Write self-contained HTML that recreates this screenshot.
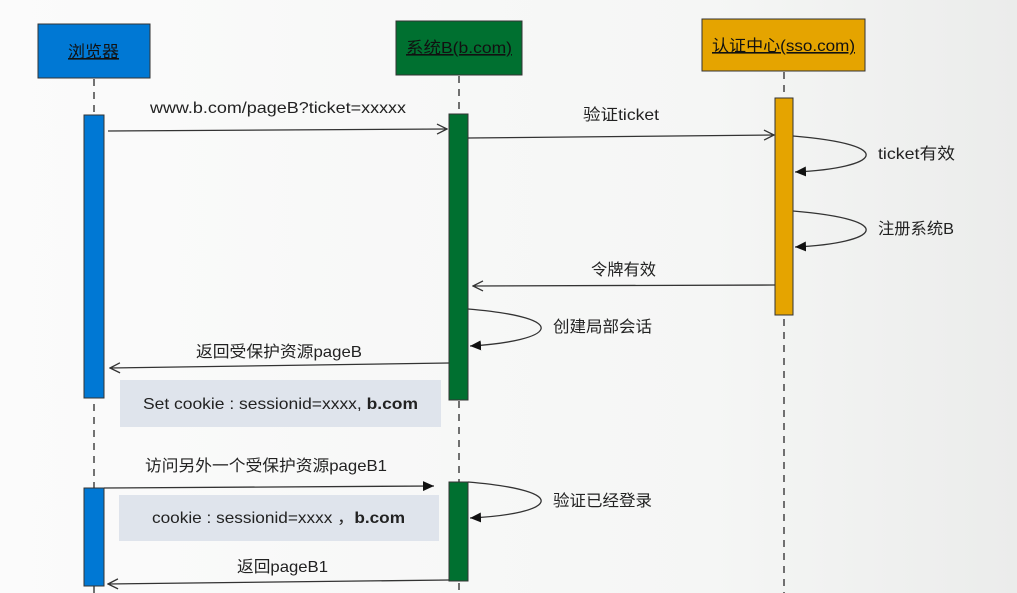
<!DOCTYPE html>
<html><head><meta charset="utf-8"><style>
html,body{margin:0;padding:0;background:#f7f8f7;}
svg{display:block;}
text{font-family:"Liberation Sans","Noto Sans CJK SC",sans-serif;font-size:16px;fill:#222;}
</style></head><body>
<svg width="1017" height="593" viewBox="0 0 1017 593" xmlns="http://www.w3.org/2000/svg">
<defs>
<linearGradient id="bg" x1="0" x2="1" y1="0" y2="0">
<stop offset="0" stop-color="#fbfbfb"/><stop offset="0.7" stop-color="#f5f6f5"/><stop offset="1" stop-color="#ebeceb"/>
</linearGradient>
<marker id="open" markerWidth="12" markerHeight="12" refX="11" refY="6" orient="auto" markerUnits="userSpaceOnUse">
<path d="M1,1 L11,6 L1,11" fill="none" stroke="#333" stroke-width="1.3"/></marker>
<marker id="fill" markerWidth="12" markerHeight="10" refX="11" refY="5" orient="auto" markerUnits="userSpaceOnUse">
<path d="M0,0 L11,5 L0,10 z" fill="#111"/></marker>
</defs>
<rect width="1017" height="593" fill="url(#bg)"/>
<g stroke="#444" stroke-width="1.5" stroke-dasharray="7,6">
<line x1="94" y1="79" x2="94" y2="593"/>
<line x1="459" y1="76" x2="459" y2="593"/>
<line x1="784" y1="72" x2="784" y2="593"/>
</g>
<rect x="38" y="24" width="112" height="54" fill="#0078d4" stroke="#333"/>
<text x="68" y="57" textLength="51" lengthAdjust="spacingAndGlyphs" text-decoration="underline" style="fill:#111">浏览器</text>
<rect x="396" y="21" width="126" height="54" fill="#007030" stroke="#333"/>
<text x="406" y="53" textLength="106" lengthAdjust="spacingAndGlyphs" text-decoration="underline" style="fill:#111">系统B(b.com)</text>
<rect x="702" y="19" width="163" height="52" fill="#e5a400" stroke="#333"/>
<text x="712" y="51" textLength="143" lengthAdjust="spacingAndGlyphs" text-decoration="underline" style="fill:#111">认证中心(sso.com)</text>
<g stroke="#333" stroke-width="1">
<rect x="84" y="115" width="20" height="283" fill="#0078d4"/>
<rect x="84" y="488" width="20" height="98" fill="#0078d4"/>
<rect x="449" y="114" width="19" height="286" fill="#007030"/>
<rect x="449" y="482" width="19" height="99" fill="#007030"/>
<rect x="775" y="98" width="18" height="217" fill="#e5a400"/>
</g>
<rect x="120" y="380" width="321" height="47" fill="#dfe4ec"/>
<text x="143" y="409" textLength="275" lengthAdjust="spacingAndGlyphs">Set cookie : sessionid=xxxx, <tspan font-weight="bold">b.com</tspan></text>
<rect x="119" y="495" width="320" height="46" fill="#dfe4ec"/>
<text x="152" y="523" textLength="253" lengthAdjust="spacingAndGlyphs">cookie : sessionid=xxxx ，<tspan font-weight="bold">b.com</tspan></text>
<g stroke="#333" stroke-width="1.3" fill="none">
<line x1="108" y1="131" x2="447" y2="129" marker-end="url(#open)"/>
<line x1="468" y1="138" x2="774" y2="135" marker-end="url(#open)"/>
<path d="M793,136 C900,145 880,168 795,172" marker-end="url(#fill)"/>
<path d="M793,211 C900,220 880,243 795,247" marker-end="url(#fill)"/>
<line x1="775" y1="285" x2="473" y2="286" marker-end="url(#open)"/>
<path d="M468,309 C575,318 555,341 470,346" marker-end="url(#fill)"/>
<line x1="449" y1="363" x2="110" y2="368" marker-end="url(#open)"/>
<line x1="104" y1="488" x2="434" y2="486" marker-end="url(#fill)"/>
<path d="M468,482 C575,491 555,514 470,518" marker-end="url(#fill)"/>
<line x1="449" y1="580" x2="108" y2="584" marker-end="url(#open)"/>
</g>
<text x="150" y="113" textLength="256" lengthAdjust="spacingAndGlyphs">www.b.com/pageB?ticket=xxxxx</text>
<text x="583" y="120" textLength="76" lengthAdjust="spacingAndGlyphs">验证ticket</text>
<text x="878" y="159" textLength="77" lengthAdjust="spacingAndGlyphs">ticket有效</text>
<text x="878" y="234" textLength="76" lengthAdjust="spacingAndGlyphs">注册系统B</text>
<text x="591" y="275" textLength="65" lengthAdjust="spacingAndGlyphs">令牌有效</text>
<text x="553" y="332" textLength="99" lengthAdjust="spacingAndGlyphs">创建局部会话</text>
<text x="196" y="357" textLength="166" lengthAdjust="spacingAndGlyphs">返回受保护资源pageB</text>
<text x="145" y="471" textLength="242" lengthAdjust="spacingAndGlyphs">访问另外一个受保护资源pageB1</text>
<text x="553" y="506" textLength="99" lengthAdjust="spacingAndGlyphs">验证已经登录</text>
<text x="237" y="572" textLength="91" lengthAdjust="spacingAndGlyphs">返回pageB1</text>
</svg>
</body></html>
